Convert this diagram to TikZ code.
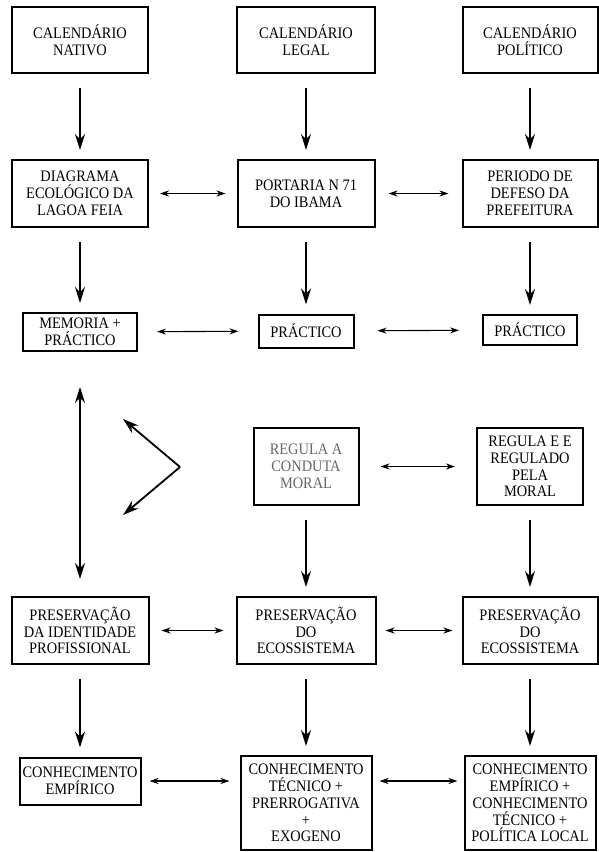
\documentclass[tikz,border=0pt]{standalone}
\usepackage{fontspec}
\setmainfont{Liberation Serif}[FakeStretch=0.9]
\usetikzlibrary{arrows.meta}

\begin{document}
\begin{tikzpicture}[x=1pt, y=-1pt,
    caixa/.style={draw, line width=2pt, align=center, inner sep=0pt, font=\fontsize{16}{16.8}\selectfont},
    seta/.style={line width=1.8pt, -{Stealth[length=16pt,width=10pt]}},
    setadupla/.style={line width=1.8pt, {Stealth[length=16pt,width=10pt]}-{Stealth[length=16pt,width=10pt]}},
    dupla/.style={line width=1.1pt, {Stealth[length=9pt,width=6pt]}-{Stealth[length=9pt,width=6pt]}}]
    \useasboundingbox (0,0) rectangle (599,852);

    % Calendars
    \node[caixa, minimum width=136pt, minimum height=66pt] (nativo) at (80,40) {CALENDÁRIO\\NATIVO};
    \node[caixa, minimum width=138pt, minimum height=66pt] (legal) at (306,40) {CALENDÁRIO\\LEGAL};
    \node[caixa, minimum width=135pt, minimum height=66pt] (politico) at (530,40) {CALENDÁRIO\\POLÍTICO};

    % Rules
    \node[caixa, minimum width=136pt, minimum height=67pt] (diagrama) at (80,193.5) {DIAGRAMA\\ECOLÓGICO DA\\LAGOA FEIA};
    \node[caixa, minimum width=137pt, minimum height=67pt] (portaria) at (306,193.5) {PORTARIA N 71\\DO IBAMA};
    \node[caixa, minimum width=135pt, minimum height=67pt] (defeso) at (530,193.5) {PERIODO DE\\DEFESO DA\\PREFEITURA};

    % Practice
    \node[caixa, minimum width=114pt, minimum height=38pt] (memoria) at (80,332) {MEMORIA +\\PRÁCTICO};
    \node[caixa, minimum width=95pt, minimum height=33pt] (pratico) at (306,331) {PRÁCTICO};
    \node[caixa, minimum width=94pt, minimum height=30pt] (praticob) at (530,330) {PRÁCTICO};

    % Moral
    \node[caixa, minimum width=105pt, minimum height=77pt, text=black!60] (regulaA) at (306,466.5) {REGULA A\\CONDUTA\\MORAL};
    \node[caixa, minimum width=106pt, minimum height=77pt] (regulaE) at (530,466.5) {REGULA E E\\REGULADO\\PELA\\MORAL};

    % Preservation
    \node[caixa, minimum width=137pt, minimum height=67pt] (identidade) at (80,630.5) {PRESERVAÇÃO\\DA IDENTIDADE\\PROFISSIONAL};
    \node[caixa, minimum width=139pt, minimum height=67pt] (ecoA) at (306,630.5) {PRESERVAÇÃO\\DO\\ECOSSISTEMA};
    \node[caixa, minimum width=135pt, minimum height=67pt] (ecoB) at (530,630.5) {PRESERVAÇÃO\\DO\\ECOSSISTEMA};

    % Knowledge
    \node[caixa, minimum width=121pt, minimum height=47pt] (empirico) at (80,781) {CONHECIMENTO\\EMPÍRICO};
    \node[caixa, minimum width=131pt, minimum height=94pt] (tecnico) at (306,803) {CONHECIMENTO\\TÉCNICO +\\PRERROGATIVA\\+\\EXOGENO};
    \node[caixa, minimum width=131pt, minimum height=94pt] (local) at (530,803) {CONHECIMENTO\\EMPÍRICO +\\CONHECIMENTO\\TÉCNICO +\\POLÍTICA LOCAL};

    % Downward arrows
    \foreach \a/\b in {nativo/diagrama, legal/portaria, politico/defeso,
                       diagrama/memoria, portaria/pratico, defeso/praticob,
                       regulaA/ecoA, regulaE/ecoB,
                       identidade/empirico, ecoA/tecnico, ecoB/local} {
        \draw[seta, shorten <=14pt, shorten >=9pt] (\a) -- (\b);
    }

    % Two-way arrows
    \foreach \a/\b/\s in {diagrama/portaria/11pt, portaria/defeso/13pt,
                          memoria/pratico/19pt, pratico/praticob/23pt,
                          regulaA/regulaE/21pt,
                          identidade/ecoA/12pt, ecoA/ecoB/9pt} {
        \draw[dupla, shorten <=\s, shorten >=\s] (\a) -- (\b);
    }
    \draw[dupla, shorten <=8pt, shorten >=10pt] (empirico.east) -- (empirico.east -| tecnico.west);
    \draw[dupla, shorten <=7pt, shorten >=6pt] (tecnico.east |- empirico.east) -- (empirico.east -| local.west);

    % Memory <-> identity
    \draw[setadupla, shorten <=35pt, shorten >=17pt] (memoria) -- (identidade);

    % Open angle
    \coordinate (vertice) at (180,467);
    \coordinate (pontaA) at (123,419);
    \coordinate (pontaB) at (123,515);
    \draw[seta] (vertice) -- (pontaA);
    \draw[seta] (vertice) -- (pontaB);

\end{tikzpicture}
\end{document}
